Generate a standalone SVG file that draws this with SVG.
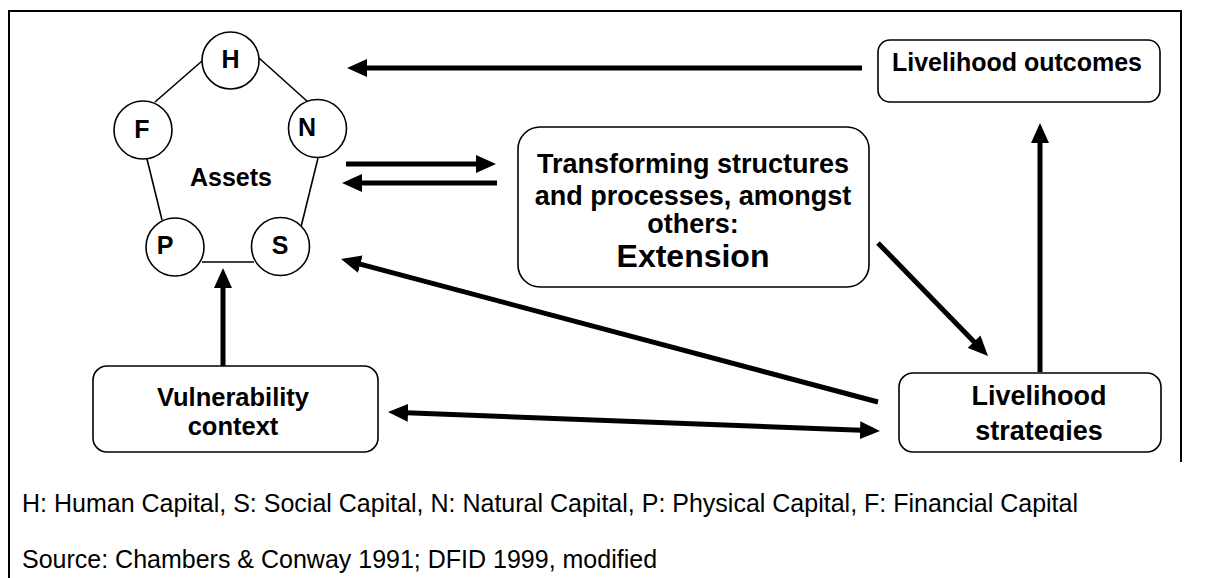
<svg xmlns="http://www.w3.org/2000/svg" width="1231" height="578" viewBox="0 0 1231 578">
<style>
  .bx { fill: #fff; stroke: #000; stroke-width: 1.6; }
  .cir { fill: #fff; stroke: #000; stroke-width: 1.6; }
  .edge { stroke: #000; stroke-width: 1.6; fill: none; }
  .lbl { font-family: "Liberation Sans", Arial, sans-serif; font-weight: bold; font-size: 25px; text-anchor: middle; fill: #000; }
  .tr { font-size: 27px; }
  .big { font-size: 32px; }
  .md { font-size: 25.5px; }
  .note { font-family: "Liberation Sans", Arial, sans-serif; font-size: 25px; fill: #000; }
  .arr { stroke: #000; stroke-width: 5; fill: none; marker-end: url(#ah); }
  .frame { stroke: #000; stroke-width: 2; fill: none; }
</style>
<defs>
  <marker id="ah" markerUnits="userSpaceOnUse" markerWidth="20" markerHeight="18" refX="8" refY="9" orient="auto-start-reverse" viewBox="0 0 20 18">
    <path d="M0,0 L20,9 L0,18 z" fill="#000"/>
  </marker>
  <clipPath id="clipS"><rect x="899" y="373" width="262" height="68"/></clipPath>
</defs>
<rect width="1231" height="578" fill="#fff"/>
<g id="frame">
  <path class="frame" d="M9,578 V11 H1181 V462"/>
</g>
<g id="assets">
  <line class="edge" x1="202" y1="61" x2="155" y2="102"/>
  <line class="edge" x1="259" y1="58" x2="308" y2="102"/>
  <line class="edge" x1="147" y1="159" x2="162" y2="220"/>
  <line class="edge" x1="318" y1="158" x2="301" y2="227"/>
  <line class="edge" x1="202" y1="262" x2="254" y2="262"/>
  <circle class="cir" cx="230.5" cy="60.5" r="28.5"/>
  <circle class="cir" cx="143" cy="130" r="29"/>
  <circle class="cir" cx="317.5" cy="128.5" r="29"/>
  <circle class="cir" cx="175" cy="247" r="29"/>
  <circle class="cir" cx="280.5" cy="246.5" r="29"/>
  <text class="lbl" x="230.5" y="68" font-size="22">H</text>
  <text class="lbl" x="142" y="138" font-size="22">F</text>
  <text class="lbl" x="307" y="136" font-size="22">N</text>
  <text class="lbl" x="165" y="254" font-size="22">P</text>
  <text class="lbl" x="280" y="254" font-size="22">S</text>
  <text class="lbl" x="231" y="186">Assets</text>
</g>
<g id="outcomes">
  <rect class="bx" x="878" y="40" width="282" height="62" rx="12"/>
  <text class="lbl" x="892" y="71" style="text-anchor:start">Livelihood outcomes</text>
</g>
<g id="transform">
  <rect class="bx" x="518" y="127" width="351" height="160" rx="22"/>
  <text class="lbl tr" x="693" y="173">Transforming structures</text>
  <text class="lbl tr" x="693" y="205">and processes, amongst</text>
  <text class="lbl tr" x="693" y="233">others:</text>
  <text class="lbl big" x="693" y="267">Extension</text>
</g>
<g id="vulnerability">
  <rect class="bx" x="93" y="366" width="285" height="86" rx="14"/>
  <text class="lbl md" x="233" y="406">Vulnerability</text>
  <text class="lbl md" x="233" y="435">context</text>
</g>
<g id="strategies">
  <rect class="bx" x="899" y="373" width="262" height="79" rx="14"/>
  <g clip-path="url(#clipS)">
    <text class="lbl tr" x="1039" y="405">Livelihood</text>
    <text class="lbl tr" x="1039" y="440">strategies</text>
  </g>
</g>
<g id="connectors">
  <line class="arr" x1="862" y1="68" x2="359" y2="68"/>
  <line class="arr" x1="346" y1="164" x2="484" y2="164"/>
  <line class="arr" x1="497" y1="183" x2="354" y2="183"/>
  <line class="arr" x1="878" y1="243" x2="979.6" y2="347.4"/>
  <line class="arr" x1="878" y1="402" x2="352.6" y2="262.1"/>
  <line class="arr" x1="400" y1="412.5" x2="868" y2="430.5" marker-start="url(#ah)"/>
  <line class="arr" x1="223" y1="366" x2="223" y2="280"/>
  <line class="arr" x1="1040" y1="372" x2="1040" y2="135"/>
</g>
<g id="notes">
  <text class="note" x="22" y="512">H: Human Capital, S: Social Capital, N: Natural Capital, P: Physical Capital, F: Financial Capital</text>
  <text class="note" x="22" y="568">Source: Chambers &amp; Conway 1991; DFID 1999, modified</text>
</g>
</svg>
